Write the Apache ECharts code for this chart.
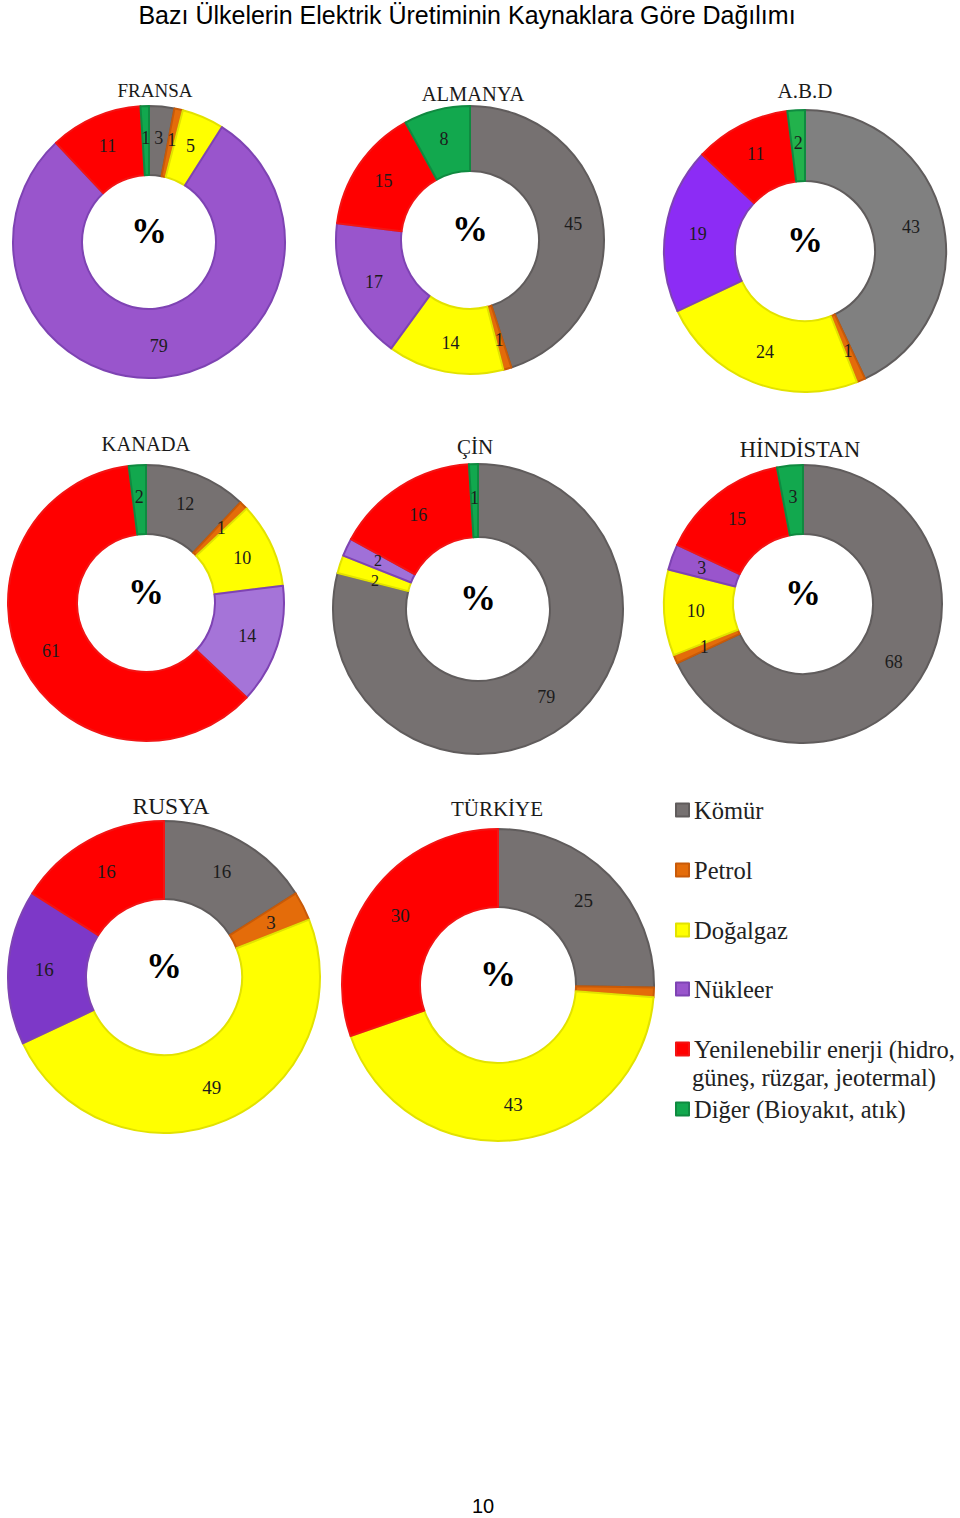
<!DOCTYPE html>
<html><head><meta charset="utf-8">
<script src="https://cdn.jsdelivr.net/npm/echarts@6/dist/echarts.min.js"></script>
<style>html,body{margin:0;padding:0;background:#fff}#chart{width:960px;height:1518px}</style>
</head><body><div id="chart"></div>
<script>
// ---- DATA ----
const categories = ['Kömür', 'Petrol', 'Doğalgaz', 'Nükleer',
  'Yenilenebilir enerji (hidro, güneş, rüzgar, jeotermal)', 'Diğer (Bioyakıt, atık)'];
const legendLines = [['Kömür'], ['Petrol'], ['Doğalgaz'], ['Nükleer'],
  ['Yenilenebilir enerji (hidro,', 'güneş, rüzgar, jeotermal)'], ['Diğer (Bioyakıt, atık)']];
const countries = ['FRANSA', 'ALMANYA', 'A.B.D', 'KANADA', 'ÇİN', 'HİNDİSTAN', 'RUSYA', 'TÜRKİYE'];
const fransa    = [3, 1, 5, 79, 11, 1];
const almanya   = [45, 1, 14, 17, 15, 8];
const abd       = [43, 1, 24, 19, 11, 2];
const kanada    = [12, 1, 10, 14, 61, 2];
const cin       = [79, 0, 2, 2, 16, 1];
const hindistan = [68, 1, 10, 3, 15, 3];
const rusya     = [16, 3, 49, 16, 16, 0];
const turkiye   = [25, 1, 43, 0, 30, 0];
const values = [fransa, almanya, abd, kanada, cin, hindistan, rusya, turkiye];
const unlabeled = { 'TÜRKİYE': ['Petrol'] };
const mainTitle = 'Bazı Ülkelerin Elektrik Üretiminin Kaynaklara Göre Dağılımı';
const centerMark = '%';
const pageNumber = '10';

// ---- STYLE / LAYOUT ----
const serif = '"Liberation Serif", "Times New Roman", serif';
const sans = '"Liberation Sans", Arial, sans-serif';
const baseColors = ['#767171', '#e46c0a', '#ffff00', '#9955cc', '#ff0000', '#12a84e'];
const baseBorders = ['#605c5c', '#c85a08', '#e2e200', '#7e43b3', '#f21414', '#0f8a40'];
const colorOverride = {
  'A.B.D': { 0: '#808080', 3: '#8c2cf5', 5: '#22b24c' },
  'KANADA': { 3: '#a574d8' },
  'ÇİN': { 3: '#a070d8' },
  'RUSYA': { 3: '#7d38c8' }
};
// small nudges for crowded labels (pixels)
const labelNudge = { 'ÇİN': { 2: [3, 6], 3: [1, -1] } };
const layout = {
  'FRANSA':    { c: [149, 242], r: [67, 136], t: [155, 90], ts: 19, fs: 18 },
  'ALMANYA':   { c: [470, 240], r: [69, 134], t: [473, 94], ts: 20.5, fs: 18 },
  'A.B.D':     { c: [805, 251], r: [70, 141], t: [805, 91], ts: 21, fs: 18 },
  'KANADA':    { c: [146, 603], r: [69, 138], t: [146, 444], ts: 20.5, fs: 18 },
  'ÇİN':       { c: [478, 609], r: [72, 145], t: [475, 447], ts: 21, fs: 18 },
  'HİNDİSTAN': { c: [803, 604], r: [70, 139], t: [800, 449], ts: 22.5, fs: 18 },
  'RUSYA':     { c: [164, 977], r: [78, 156], t: [171, 806], ts: 23.5, fs: 19 },
  'TÜRKİYE':   { c: [498, 985], r: [78, 156], t: [497, 809], ts: 21, fs: 19 }
};
const legendRows = [810, 870, 930, 989, 1049, 1109];
const legendLineGap = 28;

function colorOf(country, i) {
  const o = colorOverride[country];
  return (o && o[i]) || baseColors[i];
}

const series = [];
const graphics = [];
countries.forEach((country, k) => {
  const L = layout[country];
  const data = [];
  values[k].forEach((v, i) => {
    if (v > 0) {
      const nudge = (labelNudge[country] || {})[i];
      const lbl = { show: !((unlabeled[country] || []).includes(categories[i])) };
      if (nudge) { lbl.offset = nudge; lbl.fontSize = 16; }
      data.push({
        name: categories[i], value: v,
        itemStyle: { color: colorOf(country, i), borderColor: baseBorders[i], borderWidth: 2 },
        label: lbl
      });
    }
  });
  series.push({
    type: 'pie', name: country, center: L.c, radius: L.r,
    startAngle: 90, clockwise: true, avoidLabelOverlap: false,
    animation: false, silent: true,
    label: { show: true, position: 'inside', formatter: '{c}', color: '#1c1c1c',
      fontFamily: serif, fontSize: L.fs, overflow: 'none' },
    labelLayout: { hideOverlap: false },
    labelLine: { show: false },
    emphasis: { disabled: true },
    data
  });
  graphics.push({ type: 'text', x: L.t[0], y: L.t[1],
    style: { text: country, font: L.ts + 'px ' + serif, fill: '#1a1a1a',
      textAlign: 'center', textVerticalAlign: 'middle' } });
  graphics.push({ type: 'text', x: L.c[0], y: L.c[1] - 11,
    style: { text: centerMark, font: 'bold 36px ' + serif, fill: '#000',
      textAlign: 'center', textVerticalAlign: 'middle' } });
});
graphics.push({ type: 'text', x: 467, y: 15,
  style: { text: mainTitle, font: '25px ' + sans, fill: '#000', textAlign: 'center', textVerticalAlign: 'middle' } });
graphics.push({ type: 'text', x: 483, y: 1506,
  style: { text: pageNumber, font: '20px ' + sans, fill: '#000', textAlign: 'center', textVerticalAlign: 'middle' } });

const legendFont = 24.5;
const legends = categories.map((cat, i) => {
  const lines = legendLines[i];
  lines.slice(1).forEach((ln, j) => {
    graphics.push({ type: 'text', x: 692, y: legendRows[i] + legendLineGap * (j + 1),
      style: { text: ln, font: legendFont + 'px ' + serif, fill: '#222',
        textAlign: 'left', textVerticalAlign: 'middle' } });
  });
  return {
    data: [{ name: cat, itemStyle: { color: baseColors[i] } }],
    left: 675, top: legendRows[i] - 14,
    padding: 0, icon: 'rect', itemWidth: 13, itemHeight: 13, selectedMode: false,
    formatter: () => lines[0],
    textStyle: { fontFamily: serif, fontSize: legendFont, color: '#222', lineHeight: 28 }
  };
});

const chart = echarts.init(document.getElementById('chart'), null, { renderer: 'svg' });
chart.setOption({
  backgroundColor: '#fff',
  animation: false,
  legend: legends,
  graphic: graphics,
  series
});
</script></body></html>
